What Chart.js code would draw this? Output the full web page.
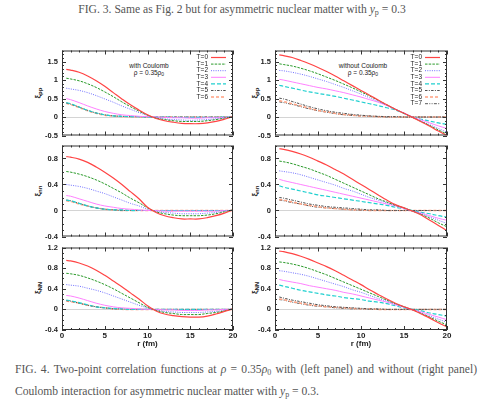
<!DOCTYPE html>
<html lang="en">
<head>
<meta charset="UTF-8">
<title>Two-point correlation functions</title>
<script src="https://cdn.jsdelivr.net/npm/chart.js@4.4.0/dist/chart.umd.min.js"></script>
<style>
  body { margin: 0; background: #fff; }
  #page { position: relative; width: 480px; height: 401px; overflow: hidden; font-family: "Liberation Sans", Arial, sans-serif; }
  #page canvas { position: absolute; }
  .cap { position: absolute; font-family: "Liberation Serif", "Times New Roman", serif; font-size: 11.6px; color: #555; }
  .cap sub { font-size: 8px; line-height: 0; vertical-align: -2px; }
  .ylab { position: absolute; font-weight: bold; font-size: 8px; color: #222; white-space: nowrap; transform: translate(-50%, -50%) rotate(-90deg); }
  .ylab sub { font-size: 6px; vertical-align: -2px; }
  .note { position: absolute; font-size: 6.5px; color: #222; text-align: center; line-height: 6.8px; transform: translateX(-50%); white-space: nowrap; }
  .note sub { font-size: 5px; vertical-align: -1px; }
</style>
</head>
<body>
<div id="page">
  <div class="cap" style="left:0; width:484px; top:3px; text-align:center;">FIG. 3. Same as Fig. 2 but for asymmetric nuclear matter with <i>y</i><sub>p</sub> = 0.3</div>

  <div class="ylab" style="left:38px; top:93px;">ξ<sub>pp</sub></div>
  <div class="ylab" style="left:38px; top:191px;">ξ<sub>nn</sub></div>
  <div class="ylab" style="left:38px; top:288px;">ξ<sub>NN</sub></div>
  <div class="ylab" style="left:255px; top:93px;">ξ<sub>pp</sub></div>
  <div class="ylab" style="left:255px; top:191px;">ξ<sub>nn</sub></div>
  <div class="ylab" style="left:255px; top:288px;">ξ<sub>NN</sub></div>

  <div class="note" style="left:149px; top:63px;">with Coulomb<br>ρ = 0.35ρ<sub>0</sub></div>
  <div class="note" style="left:363px; top:63px;">without Coulomb<br>ρ = 0.35ρ<sub>0</sub></div>

  <div class="cap" style="left:15px; width:462px; top:359px; line-height:21.7px; text-align:justify;">FIG. 4. Two-point correlation functions at <i>ρ</i> = 0.35<i>ρ</i><sub>0</sub> with (left panel) and without (right panel) Coulomb interaction for asymmetric nuclear matter with <i>y</i><sub>p</sub> = 0.3.</div>
</div>

<script>
// r (fm) sample points
const rValues = [0.5, 1, 2, 3, 4, 5, 6, 7, 8, 9, 10, 11, 12, 13, 14, 15, 16, 17, 18, 19, 20];
const tLabels = ['T=0', 'T=1', 'T=2', 'T=3', 'T=4', 'T=5', 'T=6', 'T=7'];

const xTicks = [0, 5, 10, 15, 20];
const ppTicks = [-0.5, 0, 0.5, 1, 1.5];
const nnTicks = [-0.4, 0, 0.4, 0.8];
const nucTicks = [-0.4, 0, 0.4, 0.8, 1.2];

// with Coulomb (left column)
const withPP = [
  [1.29,1.27,1.21,1.11,0.98,0.83,0.66,0.49,0.33,0.19,0.06,-0.04,-0.10,-0.14,-0.17,-0.18,-0.18,-0.16,-0.12,-0.06,0.01],
  [1.05,1.03,0.98,0.90,0.80,0.68,0.55,0.41,0.28,0.16,0.05,-0.03,-0.07,-0.10,-0.12,-0.12,-0.12,-0.10,-0.07,-0.03,0.01],
  [0.78,0.76,0.72,0.66,0.58,0.49,0.40,0.30,0.21,0.12,0.04,-0.02,-0.05,-0.07,-0.08,-0.09,-0.08,-0.07,-0.05,-0.02,0.01],
  [0.50,0.47,0.39,0.30,0.22,0.15,0.10,0.06,0.04,0.02,0.01,0.00,-0.01,-0.02,-0.02,-0.03,-0.03,-0.02,-0.02,-0.01,0.00],
  [0.39,0.36,0.27,0.18,0.11,0.06,0.03,0.02,0.01,0.01,0.00,0.00,0.00,-0.01,-0.01,-0.01,-0.01,-0.01,-0.01,0.00,0.00],
  [0.38,0.35,0.27,0.18,0.11,0.06,0.03,0.02,0.01,0.01,0.00,0.00,0.00,0.00,0.00,0.00,0.00,0.00,0.00,0.00,0.00],
  [0.37,0.34,0.26,0.17,0.10,0.05,0.03,0.01,0.01,0.00,0.00,0.00,0.00,0.00,0.00,0.00,0.00,0.00,0.00,0.00,0.00]
];
const withNN = [
  [0.83,0.82,0.79,0.74,0.67,0.59,0.50,0.40,0.29,0.18,0.05,-0.03,-0.08,-0.11,-0.13,-0.13,-0.13,-0.11,-0.08,-0.04,0.01],
  [0.60,0.59,0.56,0.52,0.47,0.41,0.34,0.27,0.19,0.12,0.04,-0.02,-0.05,-0.07,-0.08,-0.08,-0.08,-0.07,-0.05,-0.02,0.01],
  [0.40,0.39,0.37,0.34,0.30,0.26,0.21,0.16,0.11,0.07,0.02,-0.01,-0.03,-0.04,-0.05,-0.05,-0.05,-0.04,-0.03,-0.01,0.01],
  [0.23,0.22,0.18,0.14,0.10,0.07,0.05,0.03,0.02,0.01,0.00,0.00,-0.01,-0.01,-0.01,-0.01,-0.01,-0.01,-0.01,0.00,0.00],
  [0.16,0.15,0.11,0.07,0.04,0.02,0.01,0.01,0.00,0.00,0.00,0.00,0.00,0.00,0.00,0.00,0.00,0.00,0.00,0.00,0.00],
  [0.16,0.15,0.11,0.07,0.04,0.02,0.01,0.00,0.00,0.00,0.00,0.00,0.00,0.00,0.00,0.00,0.00,0.00,0.00,0.00,0.00],
  [0.15,0.14,0.10,0.07,0.04,0.02,0.01,0.00,0.00,0.00,0.00,0.00,0.00,0.00,0.00,0.00,0.00,0.00,0.00,0.00,0.00]
];
const withNuc = [
  [0.95,0.94,0.90,0.84,0.76,0.66,0.55,0.44,0.32,0.20,0.07,-0.03,-0.09,-0.12,-0.14,-0.15,-0.15,-0.13,-0.09,-0.04,0.01],
  [0.70,0.69,0.66,0.61,0.55,0.48,0.40,0.31,0.22,0.13,0.04,-0.02,-0.06,-0.08,-0.10,-0.10,-0.10,-0.08,-0.06,-0.03,0.01],
  [0.48,0.47,0.45,0.41,0.37,0.32,0.26,0.20,0.14,0.08,0.03,-0.01,-0.04,-0.05,-0.06,-0.06,-0.06,-0.05,-0.04,-0.02,0.01],
  [0.27,0.26,0.22,0.17,0.12,0.08,0.05,0.03,0.02,0.01,0.00,0.00,-0.01,-0.01,-0.02,-0.02,-0.02,-0.01,-0.01,0.00,0.00],
  [0.18,0.17,0.13,0.09,0.05,0.03,0.02,0.01,0.00,0.00,0.00,0.00,0.00,0.00,0.00,0.00,0.00,0.00,0.00,0.00,0.00],
  [0.17,0.16,0.12,0.08,0.05,0.03,0.01,0.01,0.00,0.00,0.00,0.00,0.00,0.00,0.00,0.00,0.00,0.00,0.00,0.00,0.00],
  [0.16,0.15,0.12,0.08,0.05,0.03,0.01,0.00,0.00,0.00,0.00,0.00,0.00,0.00,0.00,0.00,0.00,0.00,0.00,0.00,0.00]
];

// without Coulomb (right column)
const noPP = [
  [1.68,1.66,1.61,1.53,1.44,1.34,1.23,1.11,0.98,0.85,0.72,0.59,0.46,0.33,0.21,0.10,-0.01,-0.13,-0.25,-0.38,-0.50],
  [1.44,1.42,1.38,1.32,1.25,1.17,1.08,0.99,0.89,0.79,0.68,0.57,0.45,0.33,0.21,0.10,-0.01,-0.12,-0.23,-0.35,-0.46],
  [1.26,1.25,1.21,1.16,1.10,1.03,0.96,0.88,0.80,0.71,0.62,0.52,0.42,0.32,0.21,0.10,-0.01,-0.11,-0.21,-0.31,-0.41],
  [1.02,1.00,0.95,0.90,0.85,0.80,0.76,0.71,0.66,0.60,0.54,0.47,0.40,0.31,0.21,0.11,0.00,-0.08,-0.16,-0.24,-0.31],
  [0.86,0.83,0.78,0.73,0.68,0.64,0.60,0.56,0.51,0.46,0.41,0.36,0.31,0.25,0.19,0.10,0.00,-0.06,-0.11,-0.16,-0.20],
  [0.51,0.49,0.42,0.35,0.28,0.22,0.17,0.13,0.10,0.07,0.05,0.03,0.02,0.01,0.01,0.00,0.00,0.00,0.00,0.00,0.00],
  [0.44,0.42,0.36,0.30,0.24,0.18,0.14,0.10,0.07,0.05,0.03,0.02,0.01,0.01,0.00,0.00,0.00,0.00,0.00,0.00,0.00],
  [0.41,0.39,0.34,0.28,0.22,0.17,0.13,0.09,0.06,0.04,0.03,0.02,0.01,0.00,0.00,0.00,0.00,0.00,0.00,0.00,0.00]
];
const noNN = [
  [0.95,0.94,0.91,0.87,0.82,0.76,0.70,0.63,0.56,0.48,0.40,0.32,0.24,0.16,0.09,0.04,-0.01,-0.07,-0.15,-0.23,-0.31],
  [0.76,0.75,0.72,0.68,0.64,0.59,0.54,0.48,0.42,0.36,0.30,0.24,0.18,0.13,0.08,0.04,-0.01,-0.06,-0.12,-0.19,-0.25],
  [0.61,0.60,0.58,0.55,0.51,0.47,0.43,0.39,0.34,0.30,0.25,0.20,0.16,0.12,0.08,0.04,-0.01,-0.05,-0.10,-0.15,-0.20],
  [0.48,0.46,0.43,0.40,0.37,0.34,0.31,0.28,0.25,0.22,0.19,0.16,0.13,0.10,0.07,0.03,-0.01,-0.04,-0.08,-0.12,-0.15],
  [0.38,0.36,0.33,0.30,0.27,0.24,0.22,0.20,0.18,0.16,0.14,0.12,0.10,0.08,0.05,0.03,0.00,-0.03,-0.05,-0.08,-0.10],
  [0.20,0.19,0.16,0.13,0.10,0.08,0.06,0.05,0.04,0.03,0.02,0.01,0.01,0.00,0.00,0.00,0.00,0.00,0.00,0.00,0.00],
  [0.17,0.16,0.13,0.10,0.08,0.06,0.04,0.03,0.02,0.01,0.01,0.00,0.00,0.00,0.00,0.00,0.00,0.00,0.00,0.00,0.00],
  [0.16,0.15,0.12,0.10,0.07,0.05,0.04,0.03,0.02,0.01,0.00,0.00,0.00,0.00,0.00,0.00,0.00,0.00,0.00,0.00,0.00]
];
const noNuc = [
  [1.13,1.12,1.08,1.03,0.97,0.90,0.83,0.75,0.66,0.57,0.48,0.38,0.29,0.20,0.12,0.05,-0.01,-0.09,-0.17,-0.26,-0.34],
  [0.92,0.91,0.88,0.84,0.79,0.73,0.67,0.60,0.53,0.46,0.39,0.32,0.25,0.18,0.11,0.05,-0.01,-0.08,-0.15,-0.23,-0.30],
  [0.75,0.74,0.71,0.68,0.64,0.59,0.54,0.49,0.44,0.38,0.33,0.27,0.21,0.16,0.10,0.05,-0.01,-0.07,-0.13,-0.19,-0.25],
  [0.58,0.56,0.53,0.50,0.46,0.43,0.40,0.37,0.33,0.30,0.26,0.22,0.18,0.14,0.09,0.04,-0.01,-0.05,-0.10,-0.15,-0.20],
  [0.47,0.45,0.41,0.37,0.34,0.31,0.28,0.26,0.23,0.21,0.19,0.16,0.14,0.11,0.07,0.03,0.00,-0.03,-0.07,-0.10,-0.13],
  [0.24,0.22,0.18,0.15,0.12,0.09,0.07,0.05,0.04,0.03,0.02,0.01,0.01,0.00,0.00,0.00,0.00,0.00,0.00,0.00,0.00],
  [0.20,0.19,0.15,0.12,0.09,0.07,0.05,0.04,0.03,0.02,0.01,0.01,0.00,0.00,0.00,0.00,0.00,0.00,0.00,0.00,0.00],
  [0.19,0.18,0.14,0.11,0.08,0.06,0.05,0.03,0.02,0.01,0.01,0.00,0.00,0.00,0.00,0.00,0.00,0.00,0.00,0.00,0.00]
];

// gnuplot-ish line styles per temperature
const lineStyles = [
  { color: '#ff4444', width: 1.2, dash: [] },
  { color: '#2a9a2a', width: 1, dash: [2.5, 1.2] },
  { color: '#7070ff', width: 1, dash: [1, 1.3] },
  { color: '#ff80ff', width: 1, dash: [] },
  { color: '#20d0d0', width: 1.2, dash: [4, 2] },
  { color: '#505050', width: 1, dash: [2.5, 1.3, 1, 1.3] },
  { color: '#ffa080', width: 1.5, dash: [3, 2] },
  { color: '#5a5a5a', width: 1, dash: [3, 1.3, 1, 1.3, 1, 1.3] }
];

const FONT = '"Liberation Sans", Arial, sans-serif';

// frame + inward major/minor ticks on all four sides
const frameTicks = {
  id: 'frameTicks',
  afterDatasetsDraw(chart, args, opts) {
    const { ctx, chartArea: a, scales: { x, y } } = chart;
    ctx.save();
    ctx.strokeStyle = '#333';
    ctx.lineWidth = 1;
    ctx.strokeRect(a.left + 0.5, a.top + 0.5, a.right - a.left - 1, a.bottom - a.top - 1);
    ctx.beginPath();
    const near = (v, list) => list.some(t => Math.abs(t - v) < 1e-6);
    for (let n = Math.ceil(x.min / opts.xMinor); n * opts.xMinor <= x.max + 1e-9; n++) {
      const v = n * opts.xMinor;
      const px = Math.round(x.getPixelForValue(v)) + 0.5;
      const len = near(v, opts.xMajor) ? 4 : 2;
      ctx.moveTo(px, a.bottom); ctx.lineTo(px, a.bottom - len);
      ctx.moveTo(px, a.top); ctx.lineTo(px, a.top + len);
    }
    for (let n = Math.ceil(y.min / opts.yMinor - 1e-6); n * opts.yMinor <= y.max + 1e-9; n++) {
      const v = n * opts.yMinor;
      const py = Math.round(y.getPixelForValue(v)) + 0.5;
      const len = near(v, opts.yMajor) ? 4 : 2;
      ctx.moveTo(a.left, py); ctx.lineTo(a.left + len, py);
      ctx.moveTo(a.right, py); ctx.lineTo(a.right - len, py);
    }
    ctx.stroke();
    ctx.restore();
  }
};

// key in the top-right corner: label first, then the line sample
const cornerKey = {
  id: 'cornerKey',
  afterDatasetsDraw(chart, args, opts) {
    if (!opts.show) return;
    const { ctx, chartArea: a } = chart;
    const xEnd = a.right - 7, sample = 15;
    ctx.save();
    ctx.font = '6.5px ' + FONT;
    ctx.textAlign = 'right';
    ctx.textBaseline = 'middle';
    chart.data.datasets.forEach((ds, i) => {
      const yy = a.top + 7 + i * 6.6;
      ctx.fillStyle = '#222';
      ctx.fillText(ds.label, xEnd - sample - 3, yy);
      ctx.strokeStyle = ds.borderColor;
      ctx.lineWidth = ds.borderWidth;
      ctx.setLineDash(ds.borderDash);
      ctx.beginPath();
      ctx.moveTo(xEnd - sample, yy);
      ctx.lineTo(xEnd, yy);
      ctx.stroke();
    });
    ctx.restore();
  }
};

const panelTop = [48, 143, 245];
const panelBottom = [138, 239, 330];
const yRanges = [[-0.5, 1.8], [-0.4, 1.0], [-0.4, 1.2]];
const yTickSets = [ppTicks, nnTicks, nucTicks];

function makePanel(col, row, series) {
  const left = col === 0 ? 0 : 240;
  const axisW = col === 0 ? 62 : 35;
  const plotW = col === 0 ? 171 : 172;
  const showX = row === 2;
  const padTop = 6, padRight = 7;
  const xAxisH = showX ? 22 : 0;
  const padBottom = showX ? 0 : 6;
  const canvas = document.createElement('canvas');
  const w = axisW + plotW + padRight;
  const h = padTop + (panelBottom[row] - panelTop[row]) + xAxisH + padBottom;
  canvas.width = w; canvas.height = h;
  canvas.style.left = left + 'px';
  canvas.style.top = (panelTop[row] - padTop) + 'px';
  document.getElementById('page').appendChild(canvas);

  const yT = yTickSets[row];
  new Chart(canvas, {
    type: 'line',
    data: {
      // dataset 0 (T=0) ends up drawn on top
      datasets: series.map((vals, i) => ({
        label: tLabels[i],
        data: rValues.map((r, k) => ({ x: r, y: vals[k] })),
        borderColor: lineStyles[i].color,
        borderWidth: lineStyles[i].width,
        borderDash: lineStyles[i].dash,
        pointRadius: 0,
        tension: 0.35,
        fill: false
      }))
    },
    options: {
      responsive: false,
      animation: false,
      events: [],
      layout: { padding: { top: padTop, right: padRight, bottom: padBottom, left: 0 } },
      plugins: {
        legend: { display: false },
        tooltip: { enabled: false },
        frameTicks: { xMinor: 1, xMajor: xTicks, yMinor: 0.1, yMajor: yT },
        cornerKey: { show: row === 0 }
      },
      scales: {
        x: {
          type: 'linear', min: 0, max: 20,
          afterBuildTicks: s => { s.ticks = xTicks.map(v => ({ value: v })); },
          afterFit: s => { s.height = xAxisH; },
          grid: { display: false, drawTicks: false },
          border: { display: false },
          ticks: { display: showX, padding: 1, maxRotation: 0, color: '#222', font: { family: FONT, size: 8, weight: 'bold' } },
          title: { display: showX, text: 'r (fm)', color: '#222', padding: { top: 0, bottom: 3 }, font: { family: FONT, size: 8, weight: 'bold' } }
        },
        y: {
          type: 'linear', min: yRanges[row][0], max: yRanges[row][1],
          afterBuildTicks: s => { s.ticks = yT.map(v => ({ value: v })); },
          afterFit: s => { s.width = axisW; },
          grid: { drawTicks: false, lineWidth: 1, color: c => (c.tick && c.tick.value === 0) ? '#d4d4d4' : 'rgba(0,0,0,0)' },
          border: { display: false },
          ticks: { padding: 4, color: '#222', font: { family: FONT, size: 7.5, weight: 'bold' }, callback: v => String(v) }
        }
      }
    },
    plugins: [frameTicks, cornerKey]
  });
}

[withPP, withNN, withNuc].forEach((s, row) => makePanel(0, row, s));
[noPP, noNN, noNuc].forEach((s, row) => makePanel(1, row, s));
</script>
</body>
</html>
